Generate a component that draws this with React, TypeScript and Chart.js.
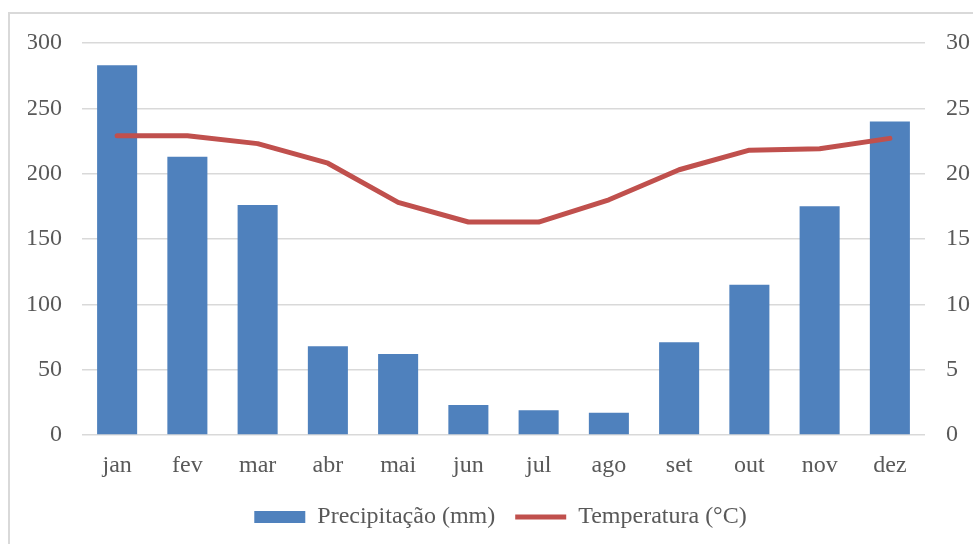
import React, { useEffect, useRef } from "react";
import { Chart, registerables } from "chart.js";

Chart.register(...registerables);

const categories = ["jan", "fev", "mar", "abr", "mai", "jun", "jul", "ago", "set", "out", "nov", "dez"];
const precipitacao = [283, 213, 176, 68, 62, 23, 19, 17, 71, 115, 175, 240];
const temperatura = [22.9, 22.9, 22.3, 20.8, 17.8, 16.3, 16.3, 18.0, 20.3, 21.8, 21.9, 22.7];
const leftTicks = [0, 50, 100, 150, 200, 250, 300];
const rightTicks = [0, 5, 10, 15, 20, 25, 30];

const FONT = '"Liberation Serif", "Times New Roman", serif';
const TEXT = "#595959";
const GRID = "#d9d9d9";

export default function App() {
  const ref = useRef<HTMLCanvasElement | null>(null);

  useEffect(() => {
    if (!ref.current) return;
    const chart = new Chart(ref.current, {
      type: "bar",
      data: {
        labels: categories,
        datasets: [
          {
            type: "line",
            label: "Temperatura (°C)",
            data: temperatura,
            yAxisID: "y1",
            borderColor: "#C0504D",
            backgroundColor: "#C0504D",
            borderWidth: 5,
            pointRadius: 0,
            pointHoverRadius: 0,
            pointStyle: "line",
            tension: 0,
            borderCapStyle: "round",
            borderJoinStyle: "round",
            order: 0,
          } as any,
          {
            type: "bar",
            label: "Precipitação (mm)",
            data: precipitacao,
            yAxisID: "y",
            backgroundColor: "#4F81BD",
            borderWidth: 0,
            pointStyle: "rect",
            barPercentage: 0.57,
            categoryPercentage: 1,
            order: 1,
          } as any,
        ],
      },
      options: {
        responsive: false,
        animation: false,
        layout: { padding: { top: 43, left: 28, right: 0, bottom: 5 } },
        plugins: {
          tooltip: { enabled: false },
          legend: {
            position: "bottom",
            reverse: true,
            labels: {
              usePointStyle: true,
              pointStyleWidth: 51,
              boxHeight: 12,
              padding: 20,
              color: TEXT,
              font: { family: FONT, size: 24 },
            },
          },
        },
        scales: {
          x: {
            grid: { display: false },
            border: { display: false },
            ticks: { color: TEXT, font: { family: FONT, size: 24 }, padding: 8 },
            afterFit: (s: any) => {
              s.height = 50;
            },
          },
          y: {
            position: "left",
            min: 0,
            max: 300,
            afterBuildTicks: (s: any) => {
              s.ticks = leftTicks.map((v) => ({ value: v }));
            },
            grid: { color: GRID, lineWidth: 1.5, drawTicks: false },
            border: { display: false },
            ticks: { color: TEXT, font: { family: FONT, size: 24 }, padding: 20 },
            afterFit: (s: any) => {
              s.width = 54;
            },
          },
          y1: {
            position: "right",
            min: 0,
            max: 30,
            afterBuildTicks: (s: any) => {
              s.ticks = rightTicks.map((v) => ({ value: v }));
            },
            grid: { display: false, drawTicks: false },
            border: { display: false },
            ticks: { color: TEXT, font: { family: FONT, size: 24 }, padding: 21 },
            afterFit: (s: any) => {
              s.width = 48;
            },
          },
        },
      } as any,
    });
    return () => chart.destroy();
  }, []);

  return (
    <div style={{ position: "absolute", left: 0, top: 0, width: 973, height: 544, overflow: "hidden", background: "#fff" }}>
      <div
        style={{
          position: "absolute",
          left: 8,
          top: 12,
          width: 1000,
          height: 600,
          border: `2px solid ${GRID}`,
        }}
      />
      <canvas ref={ref} width={973} height={544} style={{ position: "absolute", left: 0, top: 0, width: 973, height: 544 }} />
    </div>
  );
}
